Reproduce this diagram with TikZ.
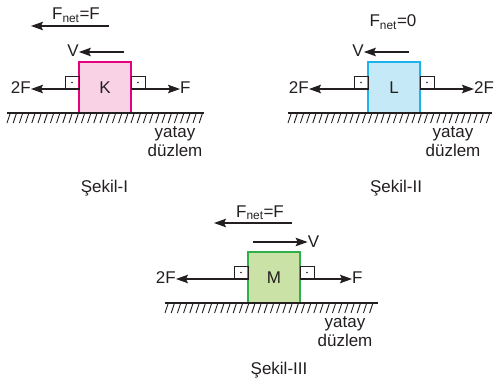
\documentclass[tikz,border=0pt]{standalone}
\usepackage{fontspec}
\setmainfont{Liberation Sans}
\usetikzlibrary{arrows.meta}
\definecolor{kfill}{HTML}{F9D3E5}\definecolor{kdraw}{HTML}{E5007D}
\definecolor{lfill}{HTML}{C6E9F8}\definecolor{ldraw}{HTML}{1EB2EC}
\definecolor{mfill}{HTML}{CAE2A6}\definecolor{mdraw}{HTML}{2FAE4A}
\definecolor{ink}{HTML}{231F20}
\begin{document}
\begin{tikzpicture}[x=1pt,y=-1pt,
  every node/.style={font=\fontsize{17}{19}\selectfont, text=ink},
  lbl/.style={inner sep=0pt},
  block/.style={draw, line width=1.3pt, minimum width=52pt, minimum height=51pt, inner sep=0pt},
  vec/.style={draw=ink, line width=1.2pt, -{Stealth[length=12pt,width=8.5pt,inset=2pt]}},
  sq/.style={draw=ink, line width=0.9pt},
  ground/.style={draw=ink, line width=2pt},
  hatch/.style={draw=ink, line width=0.9pt},
  plane/.style={inner sep=0pt, align=center, font=\fontsize{17}{19}\selectfont}]
\useasboundingbox (0,0) rectangle (494,385);
\newcommand{\hatchrow}[3]{% x1 x2 y
  \draw[ground] (#1,#3) -- (#2,#3);
  \pgfmathsetmacro{\hstart}{#1}\pgfmathsetmacro{\hsecond}{#1+6.2}\pgfmathsetmacro{\hend}{#2-3}%
  \pgfmathsetmacro{\hy}{#3+10}%
  \foreach \hx in {\hstart,\hsecond,...,\hend}{\draw[hatch] (\hx,\hy) -- ++(3,-9);}}
\newcommand{\rsq}[2]{% x-left y-bottom
  \draw[sq] (#1,#2) rectangle ++(14,-13);
  \fill[ink] (#1+7,#2-6.5) circle (0.9pt);}

% ---------- Şekil-I ----------
\node[block, fill=kfill, draw=kdraw] (K) at (105,87.5) {K};
\rsq{65}{89}\rsq{131}{89}
\node[lbl, anchor=east] (K2F) at (31,88) {2F};
\node[lbl, anchor=west] (KF) at (180,88) {F};
\coordinate (Kl) at (79,89); \coordinate (Kr) at (131,89);
\draw[vec] (Kl) -- (K2F.east |- Kl);
\draw[vec] (Kr) -- (KF.west |- Kr);
\node[lbl, anchor=base] (KV) at (73,57) {V};
\coordinate (KVs) at (124,52);
\draw[vec] (KVs) -- (KV.east |- KVs);
\node[lbl, anchor=base] (KFnet) at (76,20) {F\textsubscript{net}=F};
\coordinate (KFa) at (109,26); \coordinate (KFb) at (31,26);
\draw[vec] (KFa) -- (KFb);
\hatchrow{7}{204}{113}
\node[plane, anchor=north] (Kp) at (175,126) {yatay\\düzlem};
\node[lbl] (Ks) at (104.5,188) {Şekil-I};

% ---------- Şekil-II ----------
\node[block, fill=lfill, draw=ldraw] (L) at (394,87.5) {L};
\rsq{354}{89}\rsq{420}{89}
\node[lbl, anchor=east] (L2Fa) at (309,88) {2F};
\node[lbl, anchor=west] (L2Fb) at (474,88) {2F};
\coordinate (Ll) at (368,89); \coordinate (Lr) at (420,89);
\draw[vec] (Ll) -- (L2Fa.east |- Ll);
\draw[vec] (Lr) -- (L2Fb.west |- Lr);
\node[lbl, anchor=base] (LV) at (358,57) {V};
\coordinate (LVs) at (409,52);
\draw[vec] (LVs) -- (LV.east |- LVs);
\node[lbl, anchor=base] (LFnet) at (393,27) {F\textsubscript{net}=0};
\hatchrow{288}{492}{113}
\node[plane, anchor=north] (Lp) at (453,126) {yatay\\düzlem};
\node[lbl] (Ls) at (396,188) {Şekil-II};

% ---------- Şekil-III ----------
\node[block, fill=mfill, draw=mdraw] (M) at (274,277.5) {M};
\rsq{234}{279}\rsq{300}{279}
\node[lbl, anchor=east] (M2F) at (176,278) {2F};
\node[lbl, anchor=west] (MF) at (352,278) {F};
\coordinate (Ml) at (248,279); \coordinate (Mr) at (300,279);
\draw[vec] (Ml) -- (M2F.east |- Ml);
\draw[vec] (Mr) -- (MF.west |- Mr);
\node[lbl, anchor=base] (MV) at (313.5,247) {V};
\coordinate (MVs) at (253,242);
\draw[vec] (MVs) -- (MV.west |- MVs);
\node[lbl, anchor=base] (MFnet) at (260,217) {F\textsubscript{net}=F};
\coordinate (MFa) at (292,223); \coordinate (MFb) at (214,223);
\draw[vec] (MFa) -- (MFb);
\hatchrow{165}{378}{303}
\node[plane, anchor=north] (Mp) at (345,316) {yatay\\düzlem};
\node[lbl] (Ms) at (279,370) {Şekil-III};
\end{tikzpicture}
\end{document}
